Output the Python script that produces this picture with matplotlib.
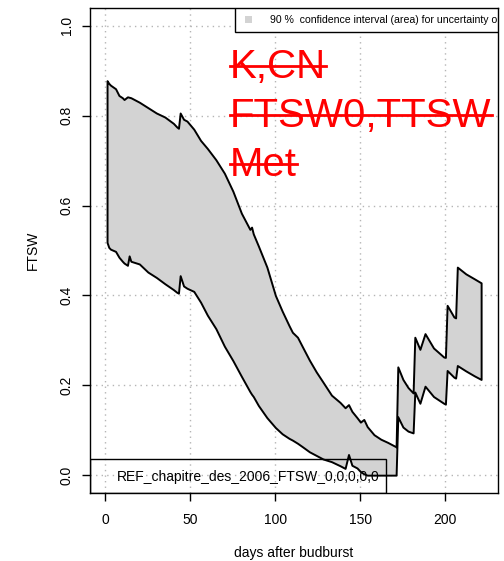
import matplotlib
matplotlib.use("Agg")
import matplotlib.pyplot as plt
from matplotlib.patches import Rectangle
from matplotlib.lines import Line2D

plt.rcParams['font.family'] = ['Liberation Sans', 'DejaVu Sans']

# days after budburst and the 90 % band of simulated FTSW
days = [1, 2, 3, 6, 8, 10, 11, 13, 14, 15, 20, 25, 30, 35, 40, 42, 43, 44, 46, 48,
        52, 56, 60, 65, 70, 75, 80, 85, 86, 87, 90, 95, 100, 104, 108, 110, 113, 116,
        120, 124, 128, 133, 138, 141, 143, 145, 148, 150, 152, 154, 158, 162, 166, 170,
        171, 172, 175, 178, 181, 182, 185, 188, 193, 199, 200, 201, 205, 206, 207, 212,
        217, 221]
upper = [0.878, 0.872, 0.868, 0.860, 0.845, 0.840, 0.836, 0.842, 0.841, 0.840, 0.830,
         0.818, 0.806, 0.797, 0.783, 0.775, 0.772, 0.806, 0.792, 0.788, 0.770, 0.745,
         0.727, 0.702, 0.672, 0.632, 0.583, 0.547, 0.552, 0.537, 0.510, 0.463, 0.400,
         0.365, 0.333, 0.318, 0.307, 0.285, 0.256, 0.230, 0.207, 0.178, 0.162, 0.150,
         0.157, 0.142, 0.128, 0.118, 0.124, 0.108, 0.090, 0.080, 0.073, 0.065, 0.063,
         0.241, 0.213, 0.195, 0.183, 0.307, 0.280, 0.315, 0.283, 0.263, 0.262, 0.378,
         0.352, 0.350, 0.463, 0.448, 0.437, 0.428]
lower = [0.518, 0.507, 0.503, 0.498, 0.485, 0.476, 0.472, 0.467, 0.488, 0.476, 0.470,
         0.452, 0.440, 0.426, 0.413, 0.407, 0.405, 0.444, 0.421, 0.416, 0.409, 0.385,
         0.356, 0.326, 0.287, 0.255, 0.220, 0.186, 0.180, 0.175, 0.155, 0.128, 0.106,
         0.092, 0.082, 0.078, 0.071, 0.063, 0.052, 0.044, 0.036, 0.030, 0.021, 0.015,
         0.046, 0.022, 0.016, 0.008, 0.003, 0.0, 0.0, 0.0, 0.0, 0.0, 0.0,
         0.130, 0.107, 0.098, 0.094, 0.185, 0.160, 0.198, 0.175, 0.160, 0.158, 0.233,
         0.218, 0.216, 0.244, 0.232, 0.221, 0.213]

x_ticks = [0, 50, 100, 150, 200]
y_ticks = [0.0, 0.2, 0.4, 0.6, 0.8, 1.0]
struck_params = ["K,CN", "FTSW0,TTSW", "Met"]
run_name = "REF_chapitre_des_2006_FTSW_0,0,0,0,0"
band_label = "90 %  confidence interval (area) for uncertainty on parameters"

fig = plt.figure(figsize=(5.04, 5.61), dpi=100)
ax = fig.add_axes([0.179, 0.121, 0.809, 0.865])

ax.fill_between(days, lower, upper, facecolor='lightgray', edgecolor='black',
                linewidth=1.4, zorder=3)

ax.set_xlim(-8.9, 230.9)
ax.set_ylim(-0.04, 1.04)
ax.set_xticks(x_ticks)
ax.set_xticklabels([str(v) for v in x_ticks])
ax.set_yticks(y_ticks)
ax.set_yticklabels(["%.1f" % v for v in y_ticks], rotation=90, va='center')
ax.tick_params(direction='out', length=6, width=1, labelsize=10, pad=8)
ax.tick_params(axis='y', pad=6)
for s in ax.spines.values():
    s.set_linewidth(1)
ax.grid(True, color='#b5b5b5', linestyle=(0, (1, 3)), linewidth=1)
ax.set_axisbelow(True)

ax.set_xlabel("days after budburst", fontsize=10, labelpad=14)
ax.set_ylabel("FTSW", fontsize=10, labelpad=14)

# legend box for the band, clipped at the right of the plot region
ax.add_patch(Rectangle((0.355, 0.950), 0.645, 0.05, transform=ax.transAxes,
                       facecolor='white', edgecolor='black', linewidth=1, zorder=5))
ax.add_patch(Rectangle((0.380, 0.969), 0.017, 0.014, transform=ax.transAxes,
                       facecolor='lightgray', edgecolor='none', zorder=6))
ax.text(0.441, 0.975, band_label, transform=ax.transAxes, fontsize=7.6,
        va='center', ha='left', zorder=6, clip_on=True)

# run name box at the bottom left
ax.add_patch(Rectangle((0.0, 0.0), 0.725, 0.070, transform=ax.transAxes,
                       facecolor='none', edgecolor='black', linewidth=1, zorder=5))
ax.text(0.066, 0.033, run_name, transform=ax.transAxes, fontsize=10,
        va='center', ha='left', zorder=6)

# parameter groups written in red and struck through
labels = []
for i, name in enumerate(struck_params):
    yb = (493 - 78 - 49 * i) / 485.0
    t = ax.text(0.343, yb, name, transform=ax.transAxes, fontsize=29, color='red',
                va='baseline', ha='left', zorder=7, clip_on=True)
    labels.append((t, yb))

fig.canvas.draw()
renderer = fig.canvas.get_renderer()
inv = ax.transAxes.inverted()
for t, yb in labels:
    bb = t.get_window_extent(renderer)
    x0 = inv.transform((bb.x0, 0))[0]
    x1 = min(inv.transform((bb.x1, 0))[0], 1.0)
    ys = yb + 12 / 485.0
    ax.add_line(Line2D([x0, x1], [ys, ys], transform=ax.transAxes, color='red',
                       linewidth=2, zorder=8, clip_on=False))

fig.savefig("out.png", dpi=100)
